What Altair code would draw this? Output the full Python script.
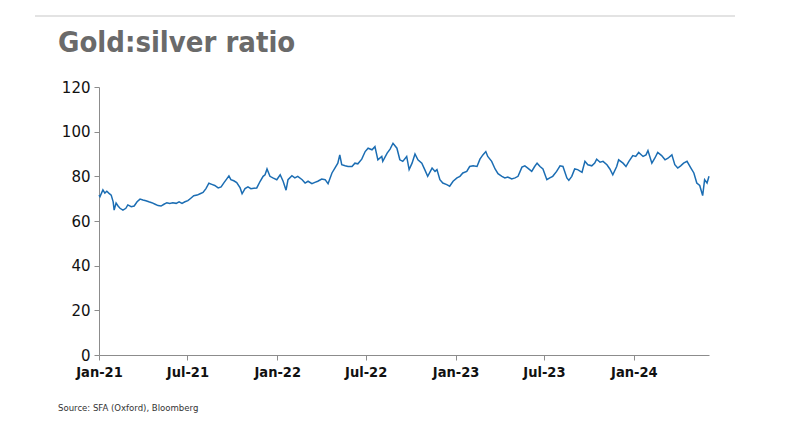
import altair as alt
import pandas as pd

dates = [
    "2021-01-01","2021-01-03","2021-01-09","2021-01-13","2021-01-17","2021-01-21","2021-01-26","2021-01-30",
    "2021-02-01","2021-02-05","2021-02-09","2021-02-13","2021-02-19","2021-02-25","2021-03-01","2021-03-08",
    "2021-03-14","2021-03-20","2021-03-26","2021-04-01","2021-04-07","2021-04-13","2021-04-19","2021-04-26",
    "2021-05-02","2021-05-08","2021-05-14","2021-05-20","2021-05-26","2021-06-01","2021-06-08","2021-06-14",
    "2021-06-20","2021-06-26","2021-07-02","2021-07-08","2021-07-14","2021-07-21","2021-07-27","2021-08-02",
    "2021-08-08","2021-08-14","2021-08-20","2021-08-26","2021-09-02","2021-09-08","2021-09-14","2021-09-20",
    "2021-09-24","2021-09-28","2021-10-04","2021-10-10","2021-10-17","2021-10-21","2021-10-27","2021-11-02",
    "2021-11-08","2021-11-14","2021-11-20","2021-11-27","2021-12-03","2021-12-07","2021-12-11","2021-12-17",
    "2021-12-23","2021-12-31","2022-01-07","2022-01-13","2022-01-19","2022-01-23","2022-01-31","2022-02-06",
    "2022-02-12","2022-02-21","2022-02-27","2022-03-05","2022-03-13","2022-03-19","2022-03-25","2022-04-02",
    "2022-04-09","2022-04-15","2022-04-23","2022-04-29","2022-05-05","2022-05-09","2022-05-13","2022-05-20",
    "2022-05-26","2022-06-03","2022-06-09","2022-06-15","2022-06-23","2022-06-30","2022-07-06","2022-07-14",
    "2022-07-20","2022-07-26","2022-08-03","2022-08-05","2022-08-14","2022-08-20","2022-08-26","2022-09-03",
    "2022-09-09","2022-09-15","2022-09-23","2022-09-28","2022-10-04","2022-10-10","2022-10-16","2022-10-24",
    "2022-10-30","2022-11-05","2022-11-14","2022-11-20","2022-11-24","2022-11-30","2022-12-06","2022-12-14",
    "2022-12-20","2022-12-27","2023-01-04","2023-01-10","2023-01-16","2023-01-24","2023-01-30","2023-02-06",
    "2023-02-14","2023-02-20","2023-02-26","2023-03-04","2023-03-08","2023-03-16","2023-03-23","2023-03-29",
    "2023-04-06","2023-04-12","2023-04-18","2023-04-26","2023-05-03","2023-05-09","2023-05-17","2023-05-23",
    "2023-05-29","2023-06-06","2023-06-12","2023-06-17","2023-06-23","2023-06-29","2023-07-07","2023-07-13",
    "2023-07-19","2023-07-27","2023-08-03","2023-08-09","2023-08-17","2023-08-21","2023-08-27","2023-09-02",
    "2023-09-08","2023-09-17","2023-09-23","2023-09-29","2023-10-07","2023-10-13","2023-10-17","2023-10-24",
    "2023-10-30","2023-11-07","2023-11-13","2023-11-19","2023-11-27","2023-12-01","2023-12-10","2023-12-16",
    "2023-12-22","2023-12-30","2024-01-05","2024-01-11","2024-01-20","2024-01-26","2024-01-30","2024-02-07",
    "2024-02-13","2024-02-19","2024-02-27","2024-03-05","2024-03-11","2024-03-19","2024-03-25","2024-03-31",
    "2024-04-06","2024-04-12","2024-04-19","2024-04-27","2024-05-03","2024-05-09","2024-05-15","2024-05-21",
    "2024-05-25","2024-05-30","2024-06-03",
]

ratio = [
    71.6, 70.9, 73.9, 72.5, 73.3, 72.5, 71.6, 68.6,
    64.9, 68.0, 66.7, 65.7, 64.9, 65.7, 67.2, 66.4,
    66.7, 68.6, 69.8, 69.4, 69.1, 68.6, 68.2, 67.5,
    66.9, 66.7, 67.5, 68.2, 67.9, 68.2, 67.9, 68.6,
    67.9, 68.6, 69.1, 70.2, 71.3, 71.6, 72.2, 72.8,
    74.5, 76.9, 76.4, 75.9, 74.8, 75.3, 77.2, 79.0,
    80.2, 78.5, 78.0, 77.2, 74.8, 72.2, 74.5, 75.3,
    74.5, 74.7, 74.8, 77.8, 80.0, 80.7, 83.3, 80.0,
    79.3, 78.5, 80.7, 77.8, 73.8, 78.5, 80.3, 79.3,
    80.0, 78.5, 77.0, 77.8, 76.7, 77.3, 77.8, 78.8,
    78.5, 76.7, 81.5, 83.7, 85.9, 89.6, 85.2, 84.7,
    84.4, 84.4, 85.9, 85.6, 87.7, 91.1, 92.6, 91.9,
    93.3, 87.4, 88.9, 86.7, 90.4, 92.2, 94.8, 92.6,
    87.4, 86.7, 88.9, 83.0, 85.9, 90.0, 87.4, 85.9,
    83.0, 80.0, 83.7, 82.2, 83.0, 78.5, 77.0, 76.3,
    75.6, 77.8, 79.3, 80.0, 81.5, 82.2, 84.4, 84.7,
    84.4, 87.7, 89.6, 91.1, 88.9, 86.7, 83.3, 81.2,
    80.0, 79.3, 79.7, 78.8, 79.3, 80.0, 84.1, 84.7,
    83.7, 82.2, 84.4, 85.9, 84.4, 83.3, 78.5, 79.3,
    80.0, 82.2, 84.7, 84.4, 79.3, 78.2, 80.0, 83.3,
    83.0, 81.8, 86.7, 85.2, 84.7, 85.9, 87.7, 86.3,
    86.7, 85.2, 83.3, 80.7, 84.4, 87.4, 85.9, 84.4,
    86.7, 89.3, 88.9, 90.7, 88.9, 89.6, 91.5, 85.9,
    88.1, 90.7, 89.3, 87.4, 88.1, 89.6, 85.2, 83.7,
    84.7, 85.9, 86.7, 83.7, 81.5, 77.0, 75.9, 71.4,
    78.5, 77.0, 80.0,
]

tick_dates = ["2021-01-01", "2021-07-01", "2022-01-01", "2022-07-01",
              "2023-01-01", "2023-07-01", "2024-01-01"]
y_ticks = [0, 20, 40, 60, 80, 100, 120]

title_text = "Gold:silver ratio"
source_text = "Source: SFA (Oxford), Bloomberg"

NARROW = "Liberation Sans Narrow, DejaVu Sans Condensed, Roboto Condensed, Arial Narrow, sans-serif"

df = pd.DataFrame({"date": pd.to_datetime(dates), "ratio": ratio})

tick_values = [alt.DateTime(year=int(d[:4]), month=int(d[5:7]), date=1) for d in tick_dates]

line = alt.Chart(df).mark_line(color="#1b6db3", strokeWidth=1.5).encode(
    x=alt.X(
        "date:T",
        scale=alt.Scale(domain=[dates[0], dates[-1]]),
        axis=alt.Axis(
            values=tick_values,
            format="%b-%y",
            title=None,
            grid=False,
            tickSize=5,
            labelPadding=5,
            labelFont=NARROW,
            labelFontWeight="bold",
            labelFontSize=14.5,
            labelColor="#111111",
            domainColor="#8c8c8c",
            tickColor="#8c8c8c",
            labelFlush=False,
        ),
    ),
    y=alt.Y(
        "ratio:Q",
        scale=alt.Scale(domain=[0, 120], nice=False),
        axis=alt.Axis(
            values=y_ticks,
            title=None,
            grid=False,
            tickSize=5,
            labelPadding=4,
            labelFont="DejaVu Sans",
            labelFontSize=15,
            labelColor="#111111",
            domainColor="#8c8c8c",
            tickColor="#8c8c8c",
        ),
    ),
)

top_rule = alt.Chart(df).mark_rule(color="#e3e3e3", strokeWidth=1.5).encode(
    x=alt.value(-64), x2=alt.value(636), y=alt.value(-71)
)

title = alt.Chart(pd.DataFrame({"t": [title_text]})).mark_text(
    align="left", baseline="alphabetic", font=NARROW,
    fontSize=29, fontWeight="bold", color="#6a6a6a"
).encode(text="t:N", x=alt.value(-41), y=alt.value(-35))

source = alt.Chart(pd.DataFrame({"t": [source_text]})).mark_text(
    align="left", baseline="middle", font=NARROW,
    fontSize=9.5, color="#333333"
).encode(text="t:N", x=alt.value(-41), y=alt.value(321))

chart = alt.layer(top_rule, title, line, source).properties(
    width=610,
    height=268,
    autosize=alt.AutoSizeParams(type="none"),
    padding={"left": 91, "top": 79, "right": 60, "bottom": 68},
).configure_view(stroke=None)

chart.save("out.html", embed_options={"renderer": "svg", "actions": False})
